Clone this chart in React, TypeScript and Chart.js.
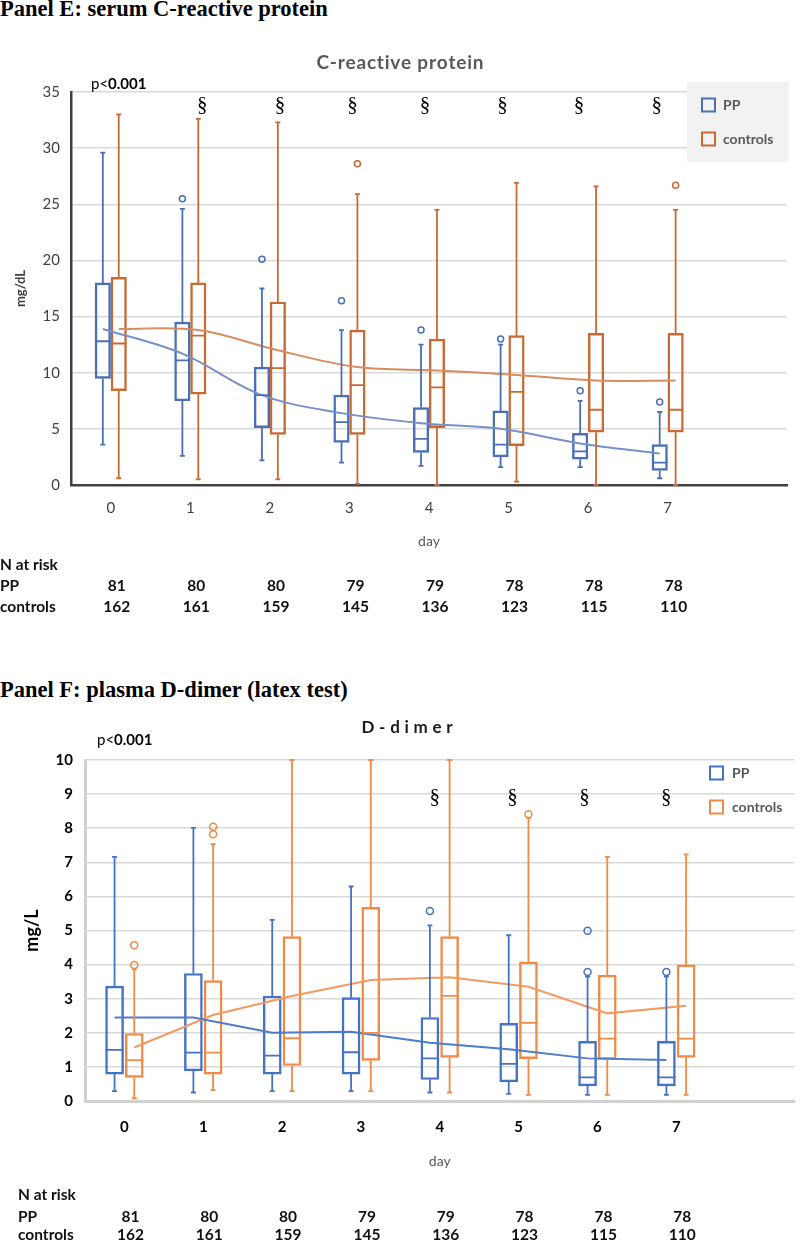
import React, { useEffect, useRef } from "react";
import { Chart, registerables } from "chart.js";

Chart.register(...registerables);
Chart.defaults.font.family = "Lato";

// ---------- shared categories / tick labels ----------
const days = [0, 1, 2, 3, 4, 5, 6, 7];
const dayTickLabels = ["0", "1", "2", "3", "4", "5", "6", "7"];
const nAtRiskPP = [81, 80, 80, 79, 79, 78, 78, 78];
const nAtRiskControls = [162, 161, 159, 145, 136, 123, 115, 110];

// ---------- Panel E: C-reactive protein (mg/dL) ----------
const crpPPLow = [3.6, 2.6, 2.2, 2.0, 1.7, 1.6, 1.6, 0.6];
const crpPPQ1 = [9.5, 7.5, 5.1, 3.8, 2.9, 2.5, 2.3, 1.3];
const crpPPMedian = [12.8, 11.1, 8.0, 5.6, 4.1, 3.6, 3.0, 2.0];
const crpPPQ3 = [18.0, 14.5, 10.5, 8.0, 6.9, 6.6, 4.6, 3.6];
const crpPPHigh = [29.6, 24.6, 17.5, 13.8, 12.5, 12.5, 7.5, 6.5];
const crpPPOutliers = [[], [25.5], [20.1], [16.4], [13.8], [13.0], [8.4], [7.4]];
const crpPPMean = [13.9, 11.7, 8.0, 6.4, 5.5, 5.0, 3.7, 2.8];

const crpCtrlLow = [0.6, 0.5, 0.5, 0.1, 0.0, 0.3, 0.0, 0.0];
const crpCtrlQ1 = [8.4, 8.1, 4.5, 4.5, 5.1, 3.5, 4.7, 4.7];
const crpCtrlMedian = [12.6, 13.3, 10.4, 8.9, 8.7, 8.3, 6.7, 6.7];
const crpCtrlQ3 = [18.5, 18.0, 16.3, 13.8, 13.0, 13.3, 13.5, 13.5];
const crpCtrlHigh = [33.0, 32.6, 32.3, 25.9, 24.5, 26.9, 26.6, 24.5];
const crpCtrlOutliers = [[], [], [], [28.6], [], [], [], [26.7]];
const crpCtrlMean = [13.9, 13.8, 12.0, 10.5, 10.2, 9.8, 9.3, 9.3];
const crpSignificantDays = [1, 2, 3, 4, 5, 6, 7];

// ---------- Panel F: D-dimer (mg/L) ----------
const ddPPLow = [0.29, 0.25, 0.29, 0.29, 0.25, 0.21, 0.18, 0.18];
const ddPPQ1 = [0.79, 0.88, 0.79, 0.79, 0.63, 0.56, 0.44, 0.44];
const ddPPMedian = [1.5, 1.42, 1.33, 1.43, 1.25, 1.09, 0.69, 0.69];
const ddPPQ3 = [3.37, 3.74, 3.08, 3.03, 2.45, 2.28, 1.75, 1.75];
const ddPPHigh = [7.16, 8.01, 5.31, 6.29, 5.15, 4.86, 3.65, 3.65];
const ddPPOutliers = [[], [], [], [], [5.57], [], [4.99, 3.78], [3.78]];
const ddPPMean = [2.45, 2.45, 2.0, 2.03, 1.71, 1.52, 1.25, 1.2];

const ddCtrlLow = [0.08, 0.32, 0.29, 0.29, 0.25, 0.18, 0.18, 0.18];
const ddCtrlQ1 = [0.69, 0.79, 1.04, 1.19, 1.28, 1.24, 1.22, 1.28];
const ddCtrlMedian = [1.2, 1.42, 1.84, 2.0, 3.08, 2.29, 1.83, 1.83];
const ddCtrlQ3 = [1.98, 3.53, 4.82, 5.68, 4.82, 4.08, 3.69, 3.99];
const ddCtrlHigh = [3.86, 7.53, 10, 10, 10, 8.3, 7.16, 7.23];
const ddCtrlOutliers = [[4.57, 3.99], [8.04, 7.82], [], [], [], [8.41], [], []];
const ddCtrlMean = [1.57, 2.52, 3.08, 3.55, 3.63, 3.35, 2.57, 2.79];
const ddSignificantDays = [4, 5, 6, 7];

type Group = {
  label: string;
  low: number[];
  q1: number[];
  med: number[];
  q3: number[];
  high: number[];
  out: number[][];
  mean: number[];
  color: string;
  meanColor: string;
};

type Spec = any;

function drawSpaced(ctx: CanvasRenderingContext2D, text: string, cx: number, cy: number, target: number) {
  const chars = Array.from(text);
  const widths = chars.map((c) => ctx.measureText(c).width);
  const natural = widths.reduce((a, b) => a + b, 0);
  const sp = chars.length > 1 ? Math.max(-1, (target - natural) / (chars.length - 1)) : 0;
  let xx = cx - (natural + sp * (chars.length - 1)) / 2;
  ctx.textAlign = "left";
  chars.forEach((c, i) => {
    ctx.fillText(c, xx, cy);
    xx += widths[i] + sp;
  });
}

function createPanel(canvas: HTMLCanvasElement, spec: Spec) {
  const groups: Group[] = spec.groups;
  const offs = [-spec.offset, spec.offset];
  const datasets: any[] = [];
  groups.forEach((g, gi) => {
    const off = offs[gi];
    datasets.push({
      type: "bar",
      label: g.label,
      data: days.map((d, i) => ({ x: d + off, y: [g.q1[i], g.q3[i]] })),
      backgroundColor: "rgba(255,255,255,0)",
      borderColor: g.color,
      borderWidth: spec.boxLineW,
      borderSkipped: false,
      barThickness: spec.barPx,
      grouped: false,
      order: 3,
    });
    datasets.push({
      type: "line",
      label: g.label + " mean",
      data: days.map((d, i) => ({ x: d + off, y: g.mean[i] })),
      borderColor: g.meanColor,
      borderWidth: spec.meanW,
      pointRadius: 0,
      tension: spec.tension,
      fill: false,
      order: 1,
    });
    const pts: any[] = [];
    days.forEach((d, i) => g.out[i].forEach((v) => pts.push({ x: d + off, y: v })));
    datasets.push({
      type: "scatter",
      label: g.label + " outliers",
      data: pts,
      pointRadius: spec.outR,
      pointBorderWidth: 1.5,
      pointBorderColor: g.color,
      pointBackgroundColor: "rgba(255,255,255,0)",
      showLine: false,
      order: 2,
    });
  });

  const whiskerPlugin = {
    id: "whiskers",
    afterDatasetsDraw(chart: any) {
      const { ctx, scales } = chart;
      const x = scales.x;
      const y = scales.y;
      groups.forEach((g, gi) => {
        ctx.save();
        ctx.strokeStyle = g.color;
        ctx.lineWidth = spec.boxLineW;
        days.forEach((d, i) => {
          const cx = x.getPixelForValue(d + offs[gi]);
          const hw = spec.barPx / 2;
          const yl = y.getPixelForValue(g.low[i]);
          const y1 = y.getPixelForValue(g.q1[i]);
          const ym = y.getPixelForValue(g.med[i]);
          const y3 = y.getPixelForValue(g.q3[i]);
          const yh = y.getPixelForValue(g.high[i]);
          ctx.beginPath();
          ctx.moveTo(cx, y1);
          ctx.lineTo(cx, yl);
          ctx.moveTo(cx, y3);
          ctx.lineTo(cx, yh);
          ctx.moveTo(cx - 2.5, yl);
          ctx.lineTo(cx + 2.5, yl);
          ctx.moveTo(cx - 2.5, yh);
          ctx.lineTo(cx + 2.5, yh);
          ctx.moveTo(cx - hw, ym);
          ctx.lineTo(cx + hw, ym);
          ctx.stroke();
        });
        ctx.restore();
      });
    },
  };

  const overlayPlugin = {
    id: "overlay",
    afterDraw(chart: any) {
      const { ctx, scales } = chart;
      const x = scales.x;
      const y = scales.y;
      ctx.save();
      ctx.textBaseline = "middle";
      // chart title
      ctx.font = spec.title.font;
      ctx.fillStyle = spec.title.color;
      drawSpaced(ctx, spec.title.text, spec.title.cx, spec.title.y, spec.title.width);
      // p-value
      ctx.fillStyle = "#000";
      ctx.textAlign = "left";
      ctx.font = "15px Lato";
      ctx.fillText("p<", spec.p.x, spec.p.y);
      const pw = ctx.measureText("p<").width;
      ctx.font = "bold 15px Lato";
      ctx.fillText("0.001", spec.p.x + pw, spec.p.y);
      // significance marks
      ctx.font = '21px "Liberation Serif"';
      ctx.textAlign = "center";
      spec.sig.days.forEach((d: number, k: number) => {
        ctx.fillText("\u00a7", x.getPixelForValue(d + spec.sig.dx[k]), y.getPixelForValue(spec.sig.y));
      });
      // legend
      const lg = spec.legend;
      if (lg.bg) {
        ctx.fillStyle = lg.bg.color;
        ctx.fillRect(lg.bg.x, lg.bg.y, lg.bg.w, lg.bg.h);
      }
      groups.forEach((g, gi) => {
        const cy = lg.ys[gi];
        ctx.strokeStyle = g.color;
        ctx.lineWidth = 2;
        ctx.strokeRect(lg.x, cy - lg.box / 2, lg.box, lg.box);
        ctx.fillStyle = "#595959";
        ctx.font = "bold 14px Lato";
        ctx.textAlign = "left";
        ctx.fillText(g.label, lg.textX, cy);
      });
      // N at risk table
      const tb = spec.table;
      ctx.fillStyle = "#111";
      ctx.font = "bold 15.5px Lato";
      ctx.textAlign = "left";
      ctx.fillText("N at risk", tb.labelX, tb.ys[0]);
      ctx.fillText("PP", tb.labelX, tb.ys[1]);
      ctx.fillText("controls", tb.labelX, tb.ys[2]);
      ctx.textAlign = "center";
      days.forEach((d, i) => {
        const px = x.getPixelForValue(d) + tb.dx;
        ctx.fillText(String(nAtRiskPP[i]), px, tb.ys[1]);
        ctx.fillText(String(nAtRiskControls[i]), px, tb.ys[2]);
      });
      ctx.restore();
    },
  };

  return new Chart(canvas, {
    type: "bar",
    data: { datasets },
    plugins: [whiskerPlugin, overlayPlugin],
    options: {
      responsive: false,
      animation: false,
      devicePixelRatio: 1,
      layout: { padding: spec.padding },
      plugins: { legend: { display: false }, tooltip: { enabled: false }, title: { display: false } },
      scales: {
        x: {
          type: "linear",
          min: -0.5,
          max: 8.5,
          offset: false,
          grid: { display: false, drawTicks: false, offset: false },
          border: { display: true, color: spec.axisColor, width: spec.axisW },
          afterBuildTicks: (s: any) => {
            s.ticks = days.map((v) => ({ value: v }));
          },
          ticks: {
            font: spec.xTickFont,
            color: spec.xTickColor,
            padding: spec.xTickPad,
            autoSkip: false,
            maxRotation: 0,
            callback: (v: any) => dayTickLabels[days.indexOf(Number(v))] ?? "",
          },
          title: {
            display: true,
            text: spec.xTitle.text,
            font: spec.xTitle.font,
            color: spec.xTitle.color,
            padding: { top: 0, bottom: spec.xTitle.padBottom },
          },
          afterFit: (s: any) => {
            s.height = spec.xAxisH;
          },
        },
        y: {
          type: "linear",
          min: 0,
          max: spec.yMax,
          grid: { color: spec.gridColor, lineWidth: spec.gridW, drawTicks: false },
          border: { display: true, color: spec.axisColor, width: spec.axisW },
          ticks: {
            stepSize: spec.yStep,
            font: spec.yTickFont,
            color: spec.yTickColor,
            padding: spec.yTickPad,
          },
          title: {
            display: true,
            text: spec.yTitle.text,
            font: spec.yTitle.font,
            color: spec.yTitle.color,
            padding: { top: spec.yTitle.padTop, bottom: 0 },
          },
          afterFit: (s: any) => {
            s.width = spec.yAxisW;
          },
        },
      },
    } as any,
  });
}

const crpSpec: Spec = {
  padding: { top: 52, right: 13, bottom: 85, left: 0 },
  yAxisW: 71,
  xAxisH: 70,
  yMax: 35,
  yStep: 5,
  yTickFont: { family: "Lato", size: 15 },
  yTickColor: "#404040",
  yTickPad: 11,
  xTickFont: { family: "Lato", size: 15 },
  xTickColor: "#404040",
  xTickPad: 14,
  yTitle: { text: "mg/dL", font: { family: "Lato", size: 13, weight: "bold" }, color: "#404040", padTop: 13 },
  xTitle: { text: "day", font: { family: "Lato", size: 14 }, color: "#595959", padBottom: 5 },
  gridColor: "#d9d9d9",
  gridW: 1.5,
  axisColor: "#404040",
  axisW: 2.5,
  offset: 0.1,
  barPx: 15.5,
  boxLineW: 1.8,
  meanW: 2,
  outR: 3,
  tension: 0.35,
  groups: [
    { label: "PP", low: crpPPLow, q1: crpPPQ1, med: crpPPMedian, q3: crpPPQ3, high: crpPPHigh, out: crpPPOutliers, mean: crpPPMean, color: "#4a6fb5", meanColor: "#7690c8" },
    { label: "controls", low: crpCtrlLow, q1: crpCtrlQ1, med: crpCtrlMedian, q3: crpCtrlQ3, high: crpCtrlHigh, out: crpCtrlOutliers, mean: crpCtrlMean, color: "#c96a34", meanColor: "#d68d60" },
  ],
  title: { text: "C-reactive protein", cx: 400, y: 23, font: "bold 19px Lato", color: "#595959", width: 167 },
  p: { x: 91, y: 44 },
  sig: { days: crpSignificantDays, y: 33.8, dx: [0.15, 0.126, 0.038, -0.05, -0.075, -0.113, -0.138] },
  legend: { bg: { x: 687, y: 42, w: 102, h: 80, color: "#f2f2f2" }, x: 702, ys: [65, 99], box: 13, textX: 723 },
  table: { labelX: 0, ys: [525, 546, 567], dx: 6 },
};

const ddSpec: Spec = {
  padding: { top: 60, right: 3, bottom: 67, left: 0 },
  yAxisW: 85,
  xAxisH: 74,
  yMax: 10,
  yStep: 1,
  yTickFont: { family: "Lato", size: 15, weight: "bold" },
  yTickColor: "#000",
  yTickPad: 12,
  xTickFont: { family: "Lato", size: 15, weight: "bold" },
  xTickColor: "#000",
  xTickPad: 17,
  yTitle: { text: "mg/L", font: { family: "Lato", size: 18, weight: "bold" }, color: "#000", padTop: 21 },
  xTitle: { text: "day", font: { family: "Lato", size: 14 }, color: "#595959", padBottom: 5 },
  gridColor: "#d9d9d9",
  gridW: 1.5,
  axisColor: "#d0d0d0",
  axisW: 3,
  offset: 0.125,
  barPx: 18,
  boxLineW: 1.8,
  meanW: 2,
  outR: 3.5,
  tension: 0,
  groups: [
    { label: "PP", low: ddPPLow, q1: ddPPQ1, med: ddPPMedian, q3: ddPPQ3, high: ddPPHigh, out: ddPPOutliers, mean: ddPPMean, color: "#4472c4", meanColor: "#4f7bcb" },
    { label: "controls", low: ddCtrlLow, q1: ddCtrlQ1, med: ddCtrlMedian, q3: ddCtrlQ3, high: ddCtrlHigh, out: ddCtrlOutliers, mean: ddCtrlMean, color: "#f08a45", meanColor: "#f39a60" },
  ],
  title: { text: "D-dimer", cx: 407, y: 28, font: "bold 17px Lato", color: "#1a1a1a", width: 91 },
  p: { x: 97, y: 40 },
  sig: { days: ddSignificantDays, y: 8.89, dx: [-0.063, -0.076, -0.165, -0.127] },
  legend: { bg: null, x: 710, ys: [73, 107], box: 13, textX: 732 },
  table: { labelX: 18, ys: [495, 517, 535], dx: 6 },
};

export default function App() {
  const topRef = useRef<HTMLCanvasElement>(null);
  const botRef = useRef<HTMLCanvasElement>(null);
  useEffect(() => {
    const c1 = createPanel(topRef.current as HTMLCanvasElement, crpSpec);
    const c2 = createPanel(botRef.current as HTMLCanvasElement, ddSpec);
    return () => {
      c1.destroy();
      c2.destroy();
    };
  }, []);
  const panelTitle: React.CSSProperties = {
    position: "absolute",
    left: 0,
    fontFamily: '"Liberation Serif", serif',
    fontWeight: "bold",
    fontSize: 22.5,
    lineHeight: "24px",
    whiteSpace: "nowrap",
    color: "#000",
  };
  return (
    <div style={{ position: "absolute", left: 0, top: 0, width: 800, height: 1242, background: "#fff", overflow: "hidden" }}>
      <div style={{ ...panelTitle, top: -3 }}>Panel E: serum C-reactive protein</div>
      <canvas ref={topRef} width={800} height={600} style={{ position: "absolute", left: 0, top: 40, width: 800, height: 600 }} />
      <div style={{ ...panelTitle, top: 678 }}>Panel F: plasma D-dimer (latex test)</div>
      <canvas ref={botRef} width={800} height={542} style={{ position: "absolute", left: 0, top: 700, width: 800, height: 542 }} />
    </div>
  );
}
